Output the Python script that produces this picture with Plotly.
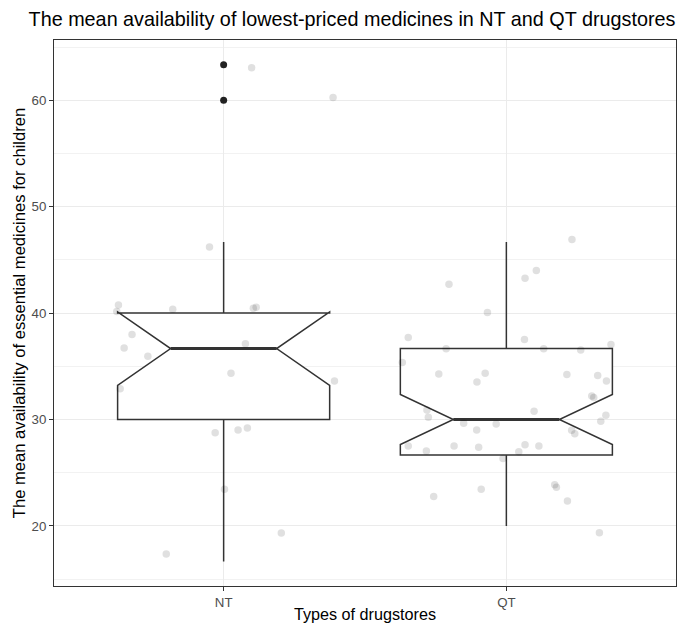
import plotly.graph_objects as go

# ---- data ----
categories = ["NT", "QT"]
cat_pos = [1, 2]

q1 = [30.0, 26.67]
median = [36.67, 30.0]
q3 = [40.0, 36.67]
lower_whisker = [16.67, 20.0]
upper_whisker = [46.67, 46.67]
notch_half = [3.45, 2.35]

outlier_cat = [1, 1]
outlier_val = [60.0, 63.33]

# jittered observations (offset from category centre, value)
nt_offset = [0.099, 0.387, -0.05, -0.372, -0.18, 0.105, 0.115, -0.378, -0.324, -0.352,
             -0.268, 0.077, 0.026, -0.366, 0.392, -0.03, 0.051, 0.084, 0.003, 0.204, -0.203]
nt_value = [63.05, 60.25, 46.22, 40.77, 40.37, 40.46, 40.55, 40.14, 37.98, 36.73,
            35.95, 37.13, 34.35, 32.9, 33.63, 28.77, 29.02, 29.21, 23.45, 19.34, 17.37]

qt_offset = [0.232, 0.106, 0.066, -0.203, -0.067, -0.347, 0.064, -0.213, 0.132, 0.263,
             0.37, -0.368, -0.239, -0.075, -0.104, 0.214, 0.323, 0.354, 0.302, 0.309,
             -0.281, -0.276, 0.098, 0.352, 0.334, -0.151, -0.036, -0.105, 0.231, 0.242,
             -0.347, -0.283, -0.185, -0.098, 0.066, 0.115, 0.044, -0.012, -0.089, -0.257,
             0.171, 0.177, 0.216, 0.329]
qt_value = [46.91, 44.0, 43.28, 42.71, 40.05, 37.7, 37.51, 36.64, 36.64, 36.54,
            37.04, 35.35, 34.29, 34.35, 33.53, 34.22, 34.13, 33.63, 32.22, 32.06,
            30.9, 30.21, 30.78, 30.4, 29.84, 29.65, 29.59, 29.02, 28.99, 28.67,
            27.52, 27.05, 27.52, 27.39, 27.64, 27.52, 26.98, 26.33, 23.45, 22.76,
            23.88, 23.64, 22.35, 19.37]

title = "The mean availability of lowest-priced medicines in NT and QT drugstores"
x_title = "Types of drugstores"
y_title = "The mean availability of essential medicines for children"

BOX_W = 0.75
LINE = "#333333"
FONT = "Liberation Sans, Arial, sans-serif"

fig = go.Figure()

for i in range(2):
    fig.add_trace(go.Box(
        x=[cat_pos[i]], q1=[q1[i]], median=[median[i]], q3=[q3[i]],
        lowerfence=[lower_whisker[i]], upperfence=[upper_whisker[i]],
        notchspan=[notch_half[i]], notched=True, notchwidth=0.25,
        width=BOX_W, whiskerwidth=0, boxpoints=False,
        fillcolor="white", line=dict(color=LINE, width=1.5),
        showlegend=False, hoverinfo="skip"))
    # thicker median line (ggplot fatten)
    half = BOX_W / 4
    fig.add_trace(go.Scatter(
        x=[cat_pos[i] - half, cat_pos[i] + half], y=[median[i], median[i]],
        mode="lines", line=dict(color=LINE, width=3), showlegend=False, hoverinfo="skip"))

fig.add_trace(go.Scatter(
    x=outlier_cat, y=outlier_val, mode="markers",
    marker=dict(color="#222222", size=7), showlegend=False))

fig.add_trace(go.Scatter(
    x=[cat_pos[0] + o for o in nt_offset] + [cat_pos[1] + o for o in qt_offset],
    y=nt_value + qt_value, mode="markers",
    marker=dict(color="rgba(0,0,0,0.12)", size=7.5, line=dict(width=0)),
    showlegend=False))

axis_common = dict(
    showline=True, linecolor=LINE, linewidth=1, mirror=True,
    ticks="outside", ticklen=4, tickcolor=LINE, tickwidth=1,
    gridcolor="#EBEBEB", gridwidth=1.2, zeroline=False, automargin=False,
    tickfont=dict(family=FONT, size=13.3, color="#4D4D4D"),
)

fig.update_layout(
    width=689, height=623,
    margin=dict(l=54, r=13, t=40, b=37),
    paper_bgcolor="white", plot_bgcolor="white",
    font=dict(family=FONT, color="black"),
    title=dict(text=title, x=352/689, xanchor="center", xref="container",
               y=1 - 19/623, yanchor="middle", yref="container",
               font=dict(size=19.8, color="black")),
    xaxis=dict(range=[0.4, 2.6], tickvals=cat_pos, ticktext=categories,
               title=dict(text=x_title, font=dict(size=16.2), standoff=3),
               **axis_common),
    yaxis=dict(range=[14.36, 65.66], tick0=0, dtick=10,
               title=dict(text=y_title, font=dict(size=16.6), standoff=1),
               minor=dict(showgrid=True, tick0=0, dtick=5, gridcolor="#F2F2F2", gridwidth=0.8, ticks=""),
               **axis_common),
)

fig.write_html("out.html", config={"displayModeBar": False},
               post_script="document.body.style.margin='0';document.body.style.overflow='hidden';")
